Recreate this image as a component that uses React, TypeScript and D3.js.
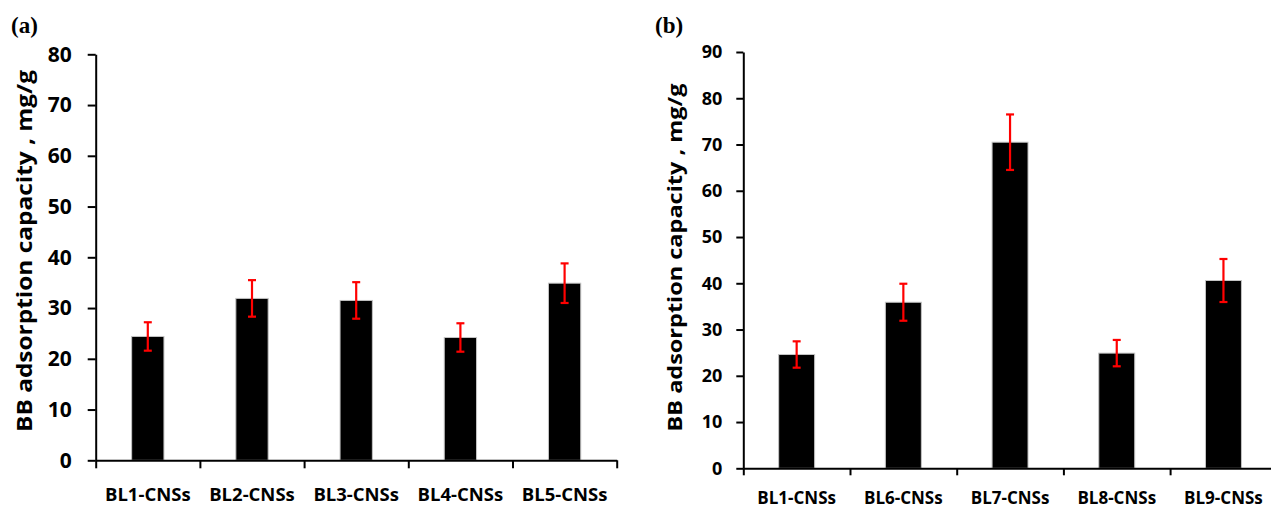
import React, { useEffect, useRef } from "react";
import * as d3 from "d3";

// panel (a)
const categoriesA = ["BL1-CNSs", "BL2-CNSs", "BL3-CNSs", "BL4-CNSs", "BL5-CNSs"];
const valuesA = [24.4, 31.9, 31.5, 24.2, 34.9];
const errorsA = [2.8, 3.6, 3.6, 2.8, 3.9];
const ticksA = [0, 10, 20, 30, 40, 50, 60, 70, 80];

// panel (b)
const categoriesB = ["BL1-CNSs", "BL6-CNSs", "BL7-CNSs", "BL8-CNSs", "BL9-CNSs"];
const valuesB = [24.6, 35.9, 70.5, 24.9, 40.6];
const errorsB = [2.85, 4.0, 6.0, 2.85, 4.65];
const ticksB = [0, 10, 20, 30, 40, 50, 60, 70, 80, 90];

const yTitle = "BB adsorption capacity , mg/g";
const sans = "'Open Sans', Lato, sans-serif";

const drawPanel = (svg, cfg) => {
  const g = svg.append("g");

  const x = d3
    .scaleBand()
    .domain(cfg.categories)
    .range([cfg.x0, cfg.x1])
    .paddingInner(cfg.pad)
    .paddingOuter(cfg.pad / 2);

  const y = d3.scaleLinear().domain([0, cfg.max]).range([cfg.y0, cfg.y1]);

  const data = cfg.categories.map((c, i) => ({
    name: c,
    value: cfg.values[i],
    err: cfg.errors[i],
  }));

  // bars
  g.append("g")
    .selectAll("rect")
    .data(data)
    .enter()
    .append("rect")
    .attr("x", (d) => x(d.name))
    .attr("y", (d) => y(d.value))
    .attr("width", x.bandwidth())
    .attr("height", (d) => y(0) - y(d.value))
    .attr("fill", "#000")
    .attr("stroke", "#c4c4c4")
    .attr("stroke-width", 1);

  // error bars
  const eb = g
    .append("g")
    .selectAll("g")
    .data(data)
    .enter()
    .append("g")
    .attr("stroke", "#ff0000")
    .attr("stroke-width", 2.2);
  const cx = (d) => x(d.name) + x.bandwidth() / 2;
  eb.append("line")
    .attr("x1", cx)
    .attr("x2", cx)
    .attr("y1", (d) => y(d.value + d.err))
    .attr("y2", (d) => y(d.value - d.err));
  eb.append("line")
    .attr("x1", (d) => cx(d) - 4)
    .attr("x2", (d) => cx(d) + 4)
    .attr("y1", (d) => y(d.value + d.err))
    .attr("y2", (d) => y(d.value + d.err));
  eb.append("line")
    .attr("x1", (d) => cx(d) - 4)
    .attr("x2", (d) => cx(d) + 4)
    .attr("y1", (d) => y(d.value - d.err))
    .attr("y2", (d) => y(d.value - d.err));

  // y axis
  const yAxis = g
    .append("g")
    .attr("transform", `translate(${cfg.x0},0)`)
    .call(d3.axisLeft(y).tickValues(cfg.ticks).tickSize(cfg.tickLen).tickSizeOuter(0).tickPadding(cfg.yPad));
  yAxis.select(".domain").attr("stroke", "#000").attr("stroke-width", 2);
  yAxis.selectAll(".tick line").attr("stroke", "#000").attr("stroke-width", 2);
  yAxis
    .selectAll(".tick text")
    .attr("fill", "#000")
    .style("font-family", sans)
    .style("font-weight", "bold")
    .style("font-size", cfg.tickFont + "px");

  // x axis: ticks at the category boundaries
  const xb = d3
    .scaleLinear()
    .domain([0, cfg.categories.length])
    .range([cfg.x0, cfg.x0 + x.step() * cfg.categories.length]);
  const xAxis = g
    .append("g")
    .attr("transform", `translate(0,${cfg.y0})`)
    .call(d3.axisBottom(xb).tickValues(d3.range(cfg.categories.length + 1)).tickSize(cfg.tickLen).tickSizeOuter(0).tickFormat(() => ""));
  xAxis.select(".domain").attr("stroke", "#000").attr("stroke-width", 2);
  xAxis.selectAll(".tick line").attr("stroke", "#000").attr("stroke-width", 2);

  g.append("g")
    .selectAll("text")
    .data(data)
    .enter()
    .append("text")
    .attr("x", cx)
    .attr("y", cfg.labelY)
    .attr("text-anchor", "middle")
    .attr("dominant-baseline", "central")
    .style("font-family", sans)
    .style("font-weight", "bold")
    .style("font-size", cfg.labelFont + "px")
    .text((d) => d.name);

  // axis title
  g.append("text")
    .attr("transform", `translate(${cfg.titleX},${cfg.titleY}) rotate(-90)`)
    .attr("text-anchor", "middle")
    .attr("textLength", cfg.titleLen)
    .attr("lengthAdjust", "spacingAndGlyphs")
    .style("font-family", sans)
    .style("font-weight", "bold")
    .style("font-size", cfg.titleFont + "px")
    .text(yTitle);

  // panel letter
  g.append("text")
    .attr("x", cfg.letterX)
    .attr("y", 33)
    .style("font-family", "'Liberation Serif', 'Times New Roman', serif")
    .style("font-weight", "bold")
    .style("font-size", "23px")
    .text(cfg.letter);
};

const App = () => {
  const chartRef = useRef(null);

  useEffect(() => {
    const element = chartRef.current;
    d3.select(element).select("svg").remove();
    const svg = d3
      .select(element)
      .append("svg")
      .attr("width", 1271)
      .attr("height", 511)
      .style("position", "absolute")
      .style("left", "0px")
      .style("top", "0px")
      .style("background", "#fff");

    drawPanel(svg, {
      categories: categoriesA,
      values: valuesA,
      errors: errorsA,
      ticks: ticksA,
      max: 80,
      x0: 95.7,
      x1: 616.7,
      y0: 460.3,
      y1: 54.3,
      pad: 0.69,
      tickLen: 8,
      yPad: 16,
      tickFont: 21,
      labelFont: 18.5,
      labelY: 493,
      titleX: 32,
      titleY: 251,
      titleLen: 362,
      titleFont: 21,
      letter: "(a)",
      letterX: 11,
    });

    drawPanel(svg, {
      categories: categoriesB,
      values: valuesB,
      errors: errorsB,
      ticks: ticksB,
      max: 90,
      x0: 743.3,
      x1: 743.3 + 106.7 * 5,
      y0: 468.3,
      y1: 52,
      pad: 0.663,
      tickLen: 7,
      yPad: 14,
      tickFont: 18,
      labelFont: 17,
      labelY: 497,
      titleX: 682,
      titleY: 257.5,
      titleLen: 348,
      titleFont: 20,
      letter: "(b)",
      letterX: 655,
    });
  }, []);

  return <div ref={chartRef}></div>;
};

export default App;
